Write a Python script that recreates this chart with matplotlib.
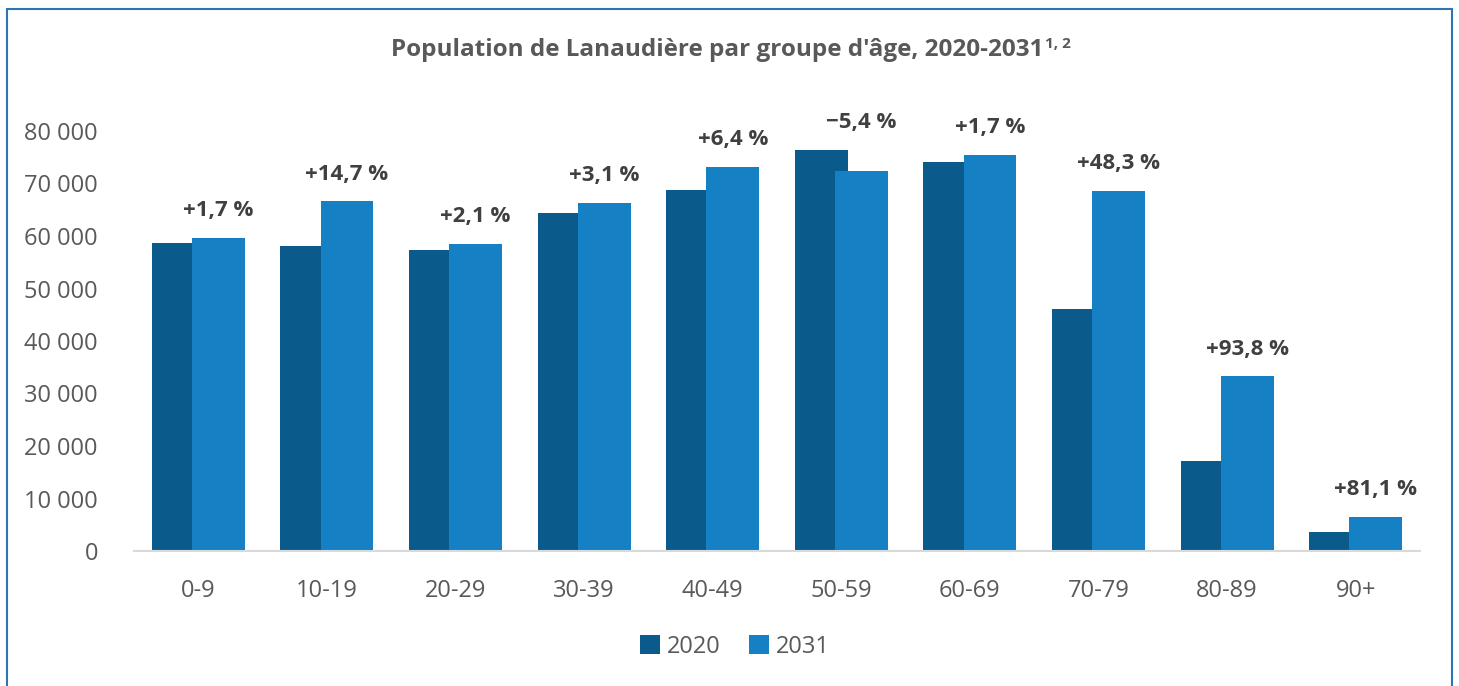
import matplotlib.pyplot as plt
from matplotlib.patches import Rectangle
import numpy as np

plt.rcParams['font.family'] = ['Open Sans', 'DejaVu Sans']

# groupes d'âge et population
groupes = ["0-9", "10-19", "20-29", "30-39", "40-49", "50-59", "60-69", "70-79", "80-89", "90+"]
pop_2020 = [58700, 58100, 57400, 64400, 68800, 76400, 74100, 46100, 17200, 3600]
pop_2031 = [59600, 66600, 58500, 66300, 73200, 72300, 75500, 68600, 33300, 6500]
variation = ["+1,7 %", "+14,7 %", "+2,1 %", "+3,1 %", "+6,4 %", "\u22125,4 %", "+1,7 %", "+48,3 %", "+93,8 %", "+81,1 %"]
yticks = [0, 10000, 20000, 30000, 40000, 50000, 60000, 70000, 80000]

c2020 = "#0b5a8c"
c2031 = "#1580c4"
gris = "#595959"

fig = plt.figure(figsize=(14.59, 6.86), dpi=100)
ax = fig.add_axes([134 / 1459, 135 / 686, (1420 - 134) / 1459, (551 - 131) / 686])

x = np.arange(len(groupes))
w = 0.41
off = 0.156
ax.bar(x - off, pop_2020, w, color=c2020, label="2020", zorder=2)
ax.bar(x + off, pop_2031, w, color=c2031, label="2031", zorder=3)

for i, txt in enumerate(variation):
    top = max(pop_2020[i], pop_2031[i])
    ax.annotate(txt, (x[i] + off, top), xytext=(0, 12), textcoords="offset points",
                ha="center", va="bottom", fontsize=16, fontweight="bold",
                color="#404040", annotation_clip=False)

ax.set_xlim(-0.5, len(groupes) - 0.5)
ax.set_ylim(0, 80000)
ax.set_yticks(yticks)
ax.set_yticklabels([f"{v:,}".replace(",", " ") for v in yticks])
ax.set_xticks(x)
ax.set_xticklabels(groupes)
ax.tick_params(axis="both", length=0, labelsize=17, labelcolor=gris)
ax.tick_params(axis="y", pad=26)
ax.tick_params(axis="x", pad=20)

for s in ["top", "right", "left"]:
    ax.spines[s].set_visible(False)
ax.spines["bottom"].set_color("#d9d9d9")
ax.spines["bottom"].set_linewidth(1.5)
ax.spines["bottom"].set_zorder(4)

# titre + exposant gras
titre = fig.text(0.5 - 12 / 1459, 1 - 50 / 686, "Population de Lanaudière par groupe d'âge, 2020-2031",
                 ha="center", va="center", fontsize=17.5, fontweight="bold", color=gris)
r = fig.canvas.get_renderer()
bb = titre.get_window_extent(r)
fig.text(bb.x1 / 1459 + 1 / 1459, 1 - 44 / 686, "1, 2", ha="left", va="center",
         fontsize=11, fontweight="bold", color=gris)

fig.legend(loc="center", bbox_to_anchor=(735 / 1459, 1 - 647 / 686), ncol=2, frameon=False,
           fontsize=17, labelcolor=gris, handlelength=0.85, handleheight=0.85,
           handletextpad=0.3, columnspacing=1.2)

fig.patches.append(Rectangle((7 / 1459, -0.1), (1452 - 7) / 1459, 1.1 - 9 / 686,
                             transform=fig.transFigure, fill=False,
                             edgecolor="#2e75b6", linewidth=1.5))

fig.savefig("out.png", dpi=100)
